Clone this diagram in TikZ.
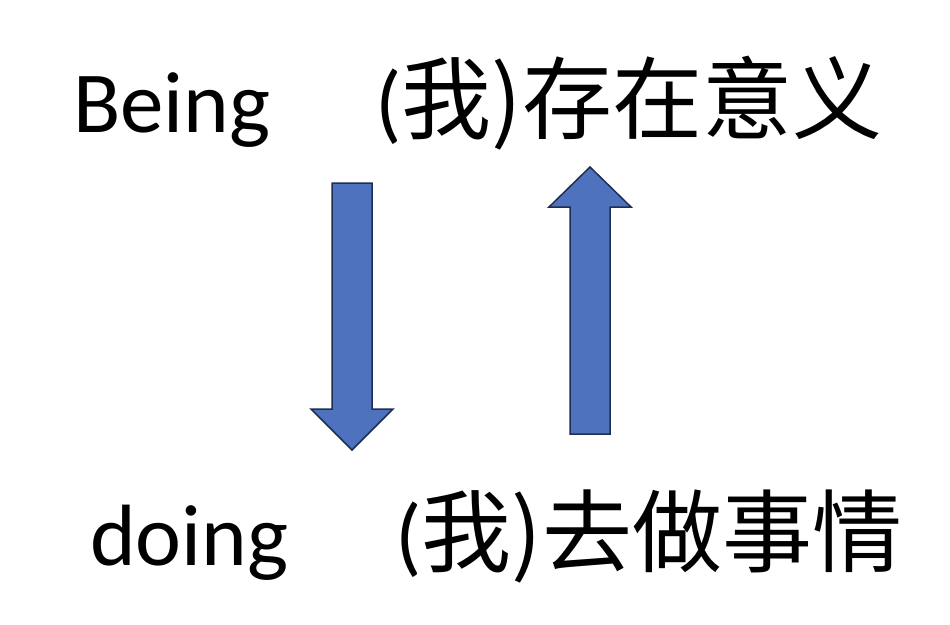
\documentclass[tikz,border=0pt]{standalone}
\usepackage{fontspec}
\setmainfont{Carlito}
\newfontfamily\cjk[Scale=1.035]{Noto Sans CJK SC}
\definecolor{arrowfill}{RGB}{79,114,190}
\definecolor{arrowedge}{RGB}{31,46,80}
\tikzset{
  word/.style={anchor=base west, inner sep=0pt, font=\fontsize{87}{92}\selectfont},
  blockarrow/.style={fill=arrowfill, draw=arrowedge, line width=1.5pt, line join=miter}
}
\begin{document}
\begin{tikzpicture}[x=1pt, y=-1pt]
        \useasboundingbox (0,0) rectangle (950,624);

        \node[word] (being) at (73,132) {Being};
        \node[word] (meaning) at (375,132) {(\cjk 我)存在意义};
        \node[word] (doing) at (90,565) {doing};
        \node[word] (act) at (395,565) {(\cjk 我)去做事情};

        % down: being -> doing
        \draw[blockarrow] (332,183) -- (372,183) -- (372,409) -- (393,409)
            -- (352,450) -- (311,409) -- (332,409) -- cycle;
        % up: doing -> being
        \draw[blockarrow] (570,434) -- (610,434) -- (610,207) -- (631,207)
            -- (590,167) -- (549,207) -- (570,207) -- cycle;

    \end{tikzpicture}
\end{document}
